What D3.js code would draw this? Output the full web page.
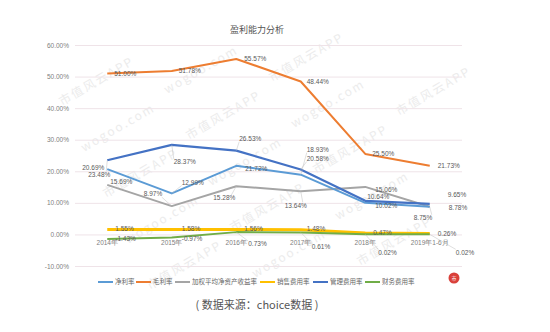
<!DOCTYPE html>
<html><head><meta charset="utf-8">
<script src="https://cdn.jsdelivr.net/npm/d3@7"></script>
<style>
html,body{margin:0;padding:0;background:#fff;}
svg{display:block;font-family:"Noto Sans CJK SC","Noto Sans",sans-serif;}
</style></head>
<body>
<svg id="chart" width="550" height="332"></svg>
<script>
// ---- data ----
const categories = ["2014年","2015年","2016年","2017年","2018年","2019年1-6月"];
const seriesNames = ["净利率","毛利率","加权平均净资产收益率","销售费用率","管理费用率","财务费用率"];
const netMargin = [20.69, 12.99, 21.72, 18.93, 10.02, 8.75];
const grossMargin = [51.00, 51.78, 55.57, 48.44, 25.50, 21.73];
const roe = [15.69, 8.97, 15.28, 13.64, 15.06, 8.78];
const salesExpense = [1.55, 1.58, 1.56, 1.48, 0.47, 0.26];
const adminExpense = [23.48, 28.37, 26.53, 20.58, 10.64, 9.65];
const financeExpense = [-1.43, -0.97, 0.73, 0.61, 0.02, 0.02];
const yTicks = [-10, 0, 10, 20, 30, 40, 50, 60];
const titleText = "盈利能力分析";
const sourceText = "( 数据来源：choice数据 )";

// ---- styling / label placement (not data) ----
const colors = ["#5B9BD5","#ED7D31","#A5A5A5","#FFC000","#4472C4","#70AD47"];
const widths = [2, 2, 2, 3, 2.2, 2];
const labelOffsets = [
  [[-25,-1],[10,-11],[9,3],[6,-25],[10,3],[-16,11]],
  [[7,0],[7,0],[8,0],[6,0],[7,0],[8,0]],
  [[3,-3],[-28,-12],[-23,12],[-16,14],[10,3],[19,1]],
  [[8,-1],[10,-1],[8,-1],[6,-1],[8,0],[8,0]],
  [[-19,14],[2,17],[3,-12],[6,-11],[2,-4],[18,-9]],
  [[8,0],[10,1],[12,12],[11,14],[13,18],[26,18]]
];
const seriesData = [netMargin, grossMargin, roe, salesExpense, adminExpense, financeExpense];

const svg = d3.select("#chart");
const plot = {left: 75, right: 462, top: 45, bottom: 266};

const x = d3.scaleBand().domain(categories).range([plot.left, plot.right]);
const cx = d => x(d) + x.bandwidth() / 2;
const y = d3.scaleLinear().domain([-10, 60]).range([plot.bottom, plot.top]);

// watermark (decorative)
const wm = svg.append("g").attr("fill", "#ececec").style("font-size", "12px").style("letter-spacing", "2px");
for (let r = -3; r < 9; r++) {
  for (let c = 0; c < 6; c++) {
    const px = 40 + c * 105 + r * 22;
    const py = 60 + r * 46 - c * 12;
    if (px < 20 || px > 400 || py < 75 || py > 300) continue;
    wm.append("text").attr("transform", `translate(${px},${py}) rotate(-30)`)
      .text((r + c) % 2 === 0 ? "wogoo.com" : "市值风云APP");
  }
}

// gridlines & y labels
const yAxis = d3.axisLeft(y).tickValues(yTicks).tickSize(-(plot.right - plot.left))
  .tickFormat(d => d.toFixed(2) + "%");
const ga = svg.append("g").attr("transform", `translate(${plot.left},0)`).call(yAxis);
ga.select(".domain").remove();
ga.selectAll(".tick line").attr("stroke", "#efe3e8").attr("stroke-width", 1);
ga.selectAll(".tick text").attr("x", -6).attr("fill", "#808080").style("font-size", "6.5px")
  .style("font-family", "'Liberation Sans',sans-serif");

// x labels at zero line
const xAxis = d3.axisBottom(x).tickSize(0);
const gx = svg.append("g").attr("transform", `translate(0,${y(0)})`).call(xAxis);
gx.select(".domain").remove();
gx.selectAll(".tick text").attr("y", 6).attr("fill", "#808080").style("font-size", "6.5px");

// title
svg.append("text").attr("x", 257).attr("y", 33).attr("text-anchor", "middle")
  .attr("fill", "#555").style("font-size", "9px").text(titleText);

// lines
const line = d3.line().x((d, i) => cx(categories[i])).y(d => y(d));
const drawOrder = [3, 5, 2, 0, 4, 1];
drawOrder.forEach(s => {
  svg.append("path").datum(seriesData[s]).attr("d", line)
    .attr("fill", "none").attr("stroke", colors[s]).attr("stroke-width", widths[s])
    .attr("stroke-linejoin", "round");
});

// data labels
const gl = svg.append("g").style("font-size", "6.5px").attr("fill", "#595959")
  .style("font-family", "'Liberation Sans',sans-serif");
seriesData.forEach((vals, s) => {
  vals.forEach((v, i) => {
    const [dx, dy] = labelOffsets[s][i];
    const px = cx(categories[i]), py = y(v);
    if (Math.abs(dy) >= 10) {
      gl.append("line").attr("x1", px).attr("y1", py)
        .attr("x2", px + dx + (dx < 0 ? 18 : 0)).attr("y2", py + dy + (dy > 0 ? -3 : 3))
        .attr("stroke", "#bfbfbf").attr("stroke-width", 0.5);
    }
    gl.append("text").attr("x", px + dx).attr("y", py + dy).attr("dy", "0.35em")
      .text(v.toFixed(2) + "%");
  });
});

// legend
const legendX = [98, 136, 175, 260, 313, 365];
const lg = svg.append("g").style("font-size", "6.5px").attr("fill", "#666");
seriesNames.forEach((n, s) => {
  lg.append("line").attr("x1", legendX[s]).attr("x2", legendX[s] + 15)
    .attr("y1", 282).attr("y2", 282).attr("stroke", colors[s]).attr("stroke-width", 2);
  lg.append("text").attr("x", legendX[s] + 17).attr("y", 282).attr("dy", "0.35em").text(n);
});

// logo seal
svg.append("circle").attr("cx", 454).attr("cy", 278).attr("r", 5.5).attr("fill", "#d9403a");
svg.append("text").attr("x", 454).attr("y", 278).attr("dy", "0.35em").attr("text-anchor", "middle")
  .attr("fill", "#fff").style("font-size", "5px").text("市");

// source
svg.append("text").attr("x", 257).attr("y", 305).attr("dy", "0.35em").attr("text-anchor", "middle")
  .attr("fill", "#555").style("font-size", "11px").text(sourceText);
</script>
</body></html>
